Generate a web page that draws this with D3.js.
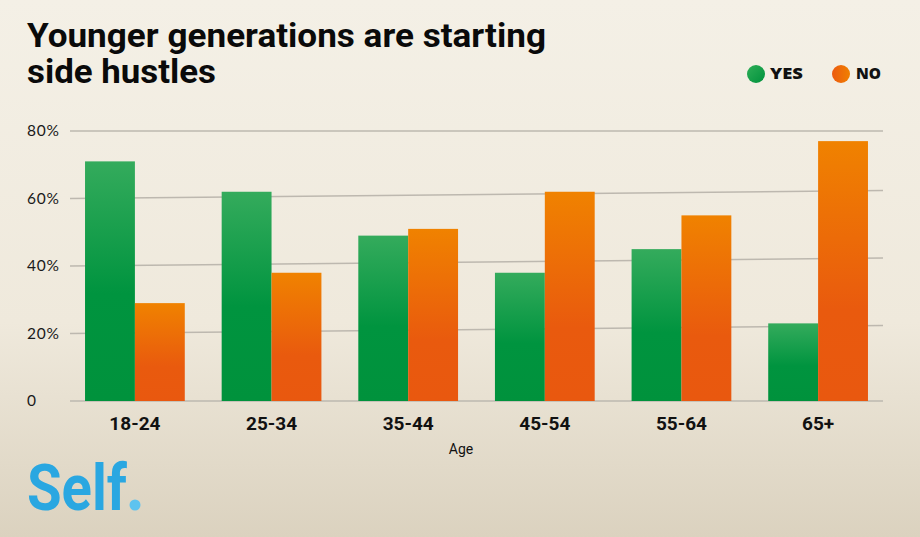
<!DOCTYPE html>
<html><head><meta charset="utf-8">
<script src="https://cdn.jsdelivr.net/npm/d3@7"></script>
<style>html,body{margin:0;padding:0;background:#f3efe4;}svg{display:block;}</style>
</head><body><svg id="c" width="920" height="537"></svg>
<script>
const categories = ["18-24","25-34","35-44","45-54","55-64","65+"];
const yesValues = [71, 62, 49, 38, 45, 23];
const noValues  = [29, 38, 51, 62, 55, 77];
const seriesNames = ["YES","NO"];
const yTicks = [0, 20, 40, 60, 80];
const yTickLabels = ["0","20%","40%","60%","80%"];

const svg = d3.select("#c");
const W = 920, H = 537;
const defs = svg.append("defs");
const bg = defs.append("linearGradient").attr("id","bg").attr("x1",0).attr("y1",0).attr("x2",0).attr("y2",1);
bg.append("stop").attr("offset","0").attr("stop-color","#f4f0e6");
bg.append("stop").attr("offset","0.6").attr("stop-color","#efe9dc");
bg.append("stop").attr("offset","1").attr("stop-color","#dbd2bf");
const gG = defs.append("linearGradient").attr("id","gGreen").attr("x1",0).attr("y1",0).attr("x2",0).attr("y2",1);
gG.append("stop").attr("offset","0").attr("stop-color","#34ab5c");
gG.append("stop").attr("offset","0.55").attr("stop-color","#00943f");
gG.append("stop").attr("offset","1").attr("stop-color","#00923c");
const gO = defs.append("linearGradient").attr("id","gOrange").attr("x1",0).attr("y1",0).attr("x2",0).attr("y2",1);
gO.append("stop").attr("offset","0").attr("stop-color","#f08200");
gO.append("stop").attr("offset","0.65").attr("stop-color","#e95a0e");
gO.append("stop").attr("offset","1").attr("stop-color","#e9580f");
const lg = defs.append("linearGradient").attr("id","lGreen").attr("x1",0).attr("y1",0).attr("x2",1).attr("y2",1);
lg.append("stop").attr("offset","0").attr("stop-color","#2eae57");
lg.append("stop").attr("offset","1").attr("stop-color","#00913c");
const lo = defs.append("linearGradient").attr("id","lOrange").attr("x1",0).attr("y1",0).attr("x2",1).attr("y2",0);
lo.append("stop").attr("offset","0").attr("stop-color","#ec5a10");
lo.append("stop").attr("offset","1").attr("stop-color","#f08000");

svg.append("rect").attr("width",W).attr("height",H).attr("fill","url(#bg)");

const x = d3.scaleBand().domain(categories).range([70, 883]).paddingInner(0.27).paddingOuter(0.11);
const xs = d3.scaleBand().domain(seriesNames).range([0, x.bandwidth()]);
const y = d3.scaleLinear().domain([0, 80]).range([401, 131]);

// gridlines (slightly tilted interior lines like the original)
svg.append("g").selectAll("line").data(yTicks).join("line")
  .attr("x1", 70).attr("x2", 883)
  .attr("y1", d => y(d))
  .attr("y2", d => y(d) - ((d > 0 && d < 80) ? 8 : 0))
  .attr("stroke", "#bdb8af").attr("stroke-width", 1.5);

// y labels
svg.append("g").selectAll("text").data(yTicks).join("text")
  .attr("x", 27).attr("y", d => y(d)).attr("dy","0.35em")
  .attr("font-family","Lato, 'Open Sans', sans-serif").attr("font-size",15.5).attr("letter-spacing",0.8).attr("fill","#1a1a1a")
  .text((d,i) => yTickLabels[i]);

// bars
const groups = svg.append("g").selectAll("g").data(categories).join("g")
  .attr("transform", d => `translate(${x(d)},0)`);
groups.append("rect")
  .attr("x", xs("YES")).attr("width", xs.bandwidth())
  .attr("y", (d,i) => y(yesValues[i])).attr("height", (d,i) => y(0) - y(yesValues[i]))
  .attr("fill","url(#gGreen)");
groups.append("rect")
  .attr("x", xs("NO")).attr("width", xs.bandwidth())
  .attr("y", (d,i) => y(noValues[i])).attr("height", (d,i) => y(0) - y(noValues[i]))
  .attr("fill","url(#gOrange)");

// x axis labels
svg.append("g").selectAll("text").data(categories).join("text")
  .attr("x", d => x(d) + x.bandwidth()/2).attr("y", 430)
  .attr("text-anchor","middle")
  .attr("font-family","Roboto, sans-serif").attr("font-weight",700).attr("font-size",19).attr("fill","#111")
  .text(d => d);
svg.append("text").attr("x", 461).attr("y", 454).attr("text-anchor","middle")
  .attr("font-family","Roboto, sans-serif").attr("font-size",14).attr("fill","#111").text("Age");

// title
const title = svg.append("g").attr("font-family","Roboto, sans-serif").attr("font-weight",700).attr("fill","#0a0a0a").attr("font-size",32.5);
title.append("text").attr("x",27).attr("y",47).attr("textLength",519).attr("lengthAdjust","spacingAndGlyphs").text("Younger generations are starting");
title.append("text").attr("x",27).attr("y",83).attr("textLength",189).attr("lengthAdjust","spacingAndGlyphs").text("side hustles");

// legend
const legend = svg.append("g");
legend.append("circle").attr("cx",756).attr("cy",74).attr("r",9).attr("fill","url(#lGreen)");
legend.append("text").attr("x",770).attr("y",74).attr("dy","0.36em").attr("textLength",33).attr("lengthAdjust","spacingAndGlyphs")
  .attr("font-family","'Open Sans', sans-serif").attr("font-weight",800).attr("font-size",15).attr("fill","#111").text(seriesNames[0]);
legend.append("circle").attr("cx",841).attr("cy",74).attr("r",9).attr("fill","url(#lOrange)");
legend.append("text").attr("x",856).attr("y",74).attr("dy","0.36em").attr("textLength",25).attr("lengthAdjust","spacingAndGlyphs")
  .attr("font-family","'Open Sans', sans-serif").attr("font-weight",800).attr("font-size",15).attr("fill","#111").text(seriesNames[1]);

// logo
svg.append("text").attr("x",27).attr("y",510)
  .attr("font-family","Roboto, sans-serif").attr("font-weight",700).attr("font-size",64)
  .attr("textLength",100).attr("lengthAdjust","spacingAndGlyphs").attr("fill","#2aa7e1").text("Self");
svg.append("circle").attr("cx",135).attr("cy",505).attr("r",5.5).attr("fill","#5ec3ef");
</script></body></html>
